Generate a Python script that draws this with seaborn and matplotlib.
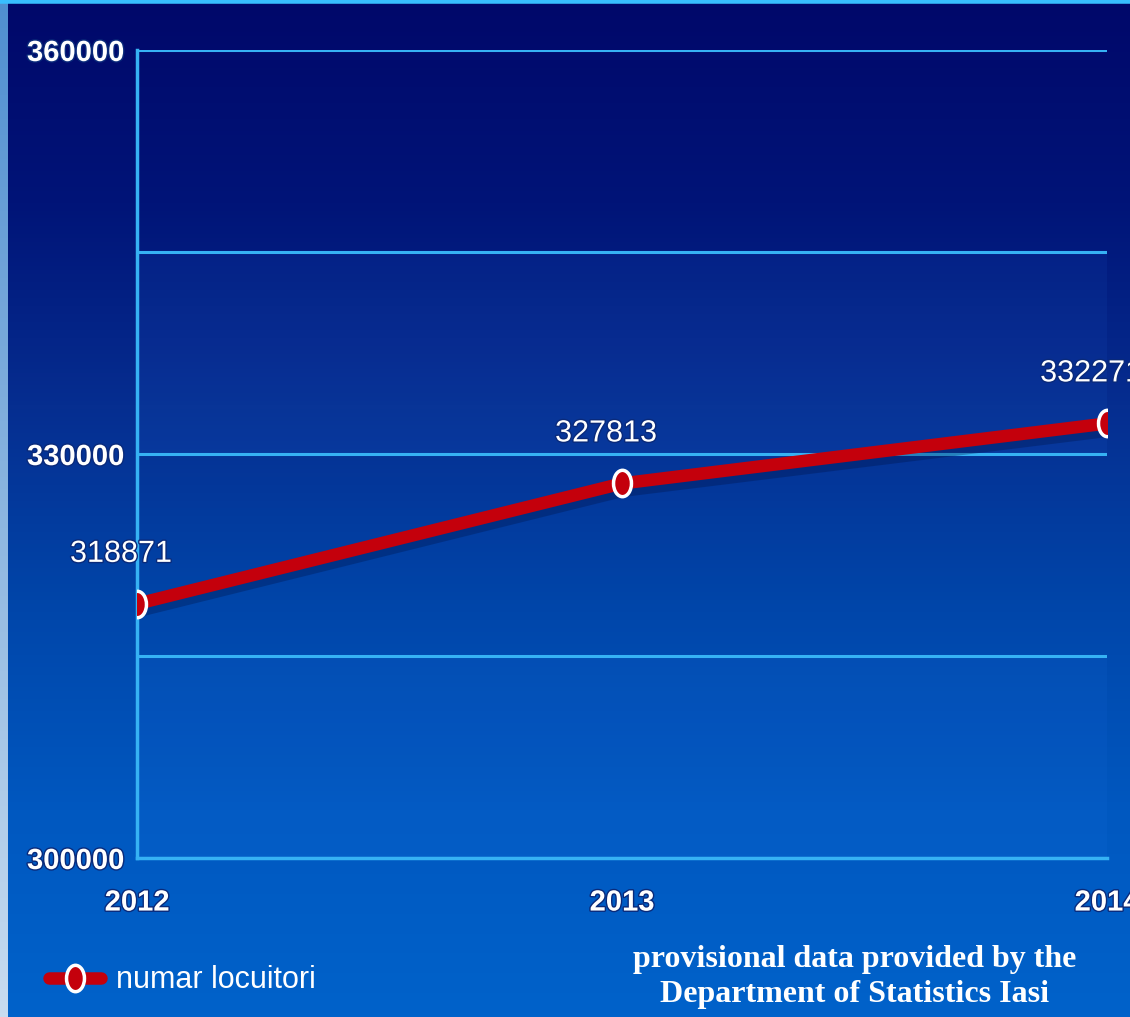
import numpy as np
import matplotlib
matplotlib.use("Agg")
import matplotlib.pyplot as plt
import matplotlib.patheffects as pe
from matplotlib.colors import LinearSegmentedColormap
from matplotlib.path import Path
import seaborn as sns
import pandas as pd

# ── data ─────────────────────────────────────
years       = [2012, 2013, 2014]
inhabitants = [318871, 327813, 332271]
y_ticks     = [300000, 330000, 360000]
band_edges  = [300000, 315000, 330000, 345000, 360000]
series_name = "numar locuitori"
source_note = "provisional data provided by the\nDepartment of Statistics Iasi"

df = pd.DataFrame({"an": years, "locuitori": inhabitants})

sns.set_style("dark")
plt.rcParams["font.family"] = ["Liberation Sans Narrow", "Liberation Sans", "DejaVu Sans"]

fig = plt.figure(figsize=(11.3, 10.17), dpi=100)

# ── background gradient ──────────────────────
bg = fig.add_axes([0, 0, 1, 1], zorder=-10)
bg_cmap = LinearSegmentedColormap.from_list(
    "bg", ["#00086a", "#001478", "#062e90", "#0046aa", "#0058c0", "#0062ca"])
grad = np.linspace(0, 1, 256).reshape(-1, 1)
bg.imshow(grad, aspect="auto", cmap=bg_cmap, extent=[0, 1, 0, 1], origin="upper")
# light strip on left edge and cyan line at top
edge = LinearSegmentedColormap.from_list("edge", ["#4f8fd0", "#c8dcf0"])
bg.imshow(grad, aspect="auto", cmap=edge, extent=[0, 0.007, 0, 1], origin="upper")
bg.axhline(0.999, color="#38bfff", lw=4)
bg.set_xlim(0, 1); bg.set_ylim(0, 1)
bg.axis("off")

# ── main axes ────────────────────────────────
ax = fig.add_axes([137/1130, 1 - 858/1017, 970/1130, 808/1017])
ax.set_facecolor("none")

# alternating lighter bands
for i in range(len(band_edges) - 1):
    if i % 2 == 0:
        ax.axhspan(band_edges[i], band_edges[i+1], color="#2f86ff", alpha=0.07, lw=0, zorder=0)

for yv in band_edges:
    ax.axhline(yv, color="#36b2f4", lw=2.2, zorder=1)

# shadow under the line
ax.plot(df["an"], df["locuitori"] - 500, color="#001040", lw=10, alpha=0.3,
        zorder=2, solid_capstyle="round")

circ = Path.unit_circle()
ell = Path(circ.vertices * np.array([0.68, 1.0]), circ.codes)

sns.lineplot(data=df, x="an", y="locuitori", ax=ax, color="#c4000c", lw=9,
             marker=ell, markersize=19, markerfacecolor="#c4000c",
             markeredgecolor="white", markeredgewidth=2.5, label=series_name,
             zorder=3)

# value labels
for x, y in zip(years, inhabitants):
    ax.annotate(f"{y}", (x, y), xytext=(-16, 50), textcoords="offset pixels",
                ha="center", va="center", color="white", fontsize=22,
                annotation_clip=False, zorder=4,
                path_effects=[pe.withStroke(linewidth=2, foreground="#0a2a7a")])

ax.set_xlim(2012, 2014)
ax.set_ylim(300000, 360000)
ax.set_xticks(years)
ax.set_xticklabels([str(y) for y in years])
ax.set_yticks(y_ticks)
ax.set_yticklabels([str(v) for v in y_ticks])
ax.set_xlabel(""); ax.set_ylabel("")
ax.grid(False)

for side in ["top", "right"]:
    ax.spines[side].set_visible(False)
for side in ["left", "bottom"]:
    ax.spines[side].set_visible(True)
    ax.spines[side].set_color("#36b2f4")
    ax.spines[side].set_linewidth(2.5)

ax.tick_params(axis="both", colors="#36b2f4", length=6, width=2.5, direction="out",
               labelcolor="white", labelsize=21)
ax.tick_params(axis="x", pad=16)
ax.tick_params(axis="y", pad=3)
for lbl in ax.get_xticklabels() + ax.get_yticklabels():
    lbl.set_fontweight("bold")
    lbl.set_path_effects([pe.withStroke(linewidth=2, foreground="#0a2a7a")])

leg = ax.legend(loc="center left", bbox_to_anchor=(0.03, 0.036),
                bbox_transform=fig.transFigure, frameon=False, fontsize=22,
                handlelength=1.7, handletextpad=0.5, borderpad=0)
for t in leg.get_texts():
    t.set_color("white")

fig.text(855/1130, 1 - 977/1017, source_note, ha="center", va="center",
         color="white", fontsize=23, fontweight="bold",
         family=["Liberation Serif", "DejaVu Serif"], linespacing=1.28)

fig.savefig("out.png", dpi=100)
